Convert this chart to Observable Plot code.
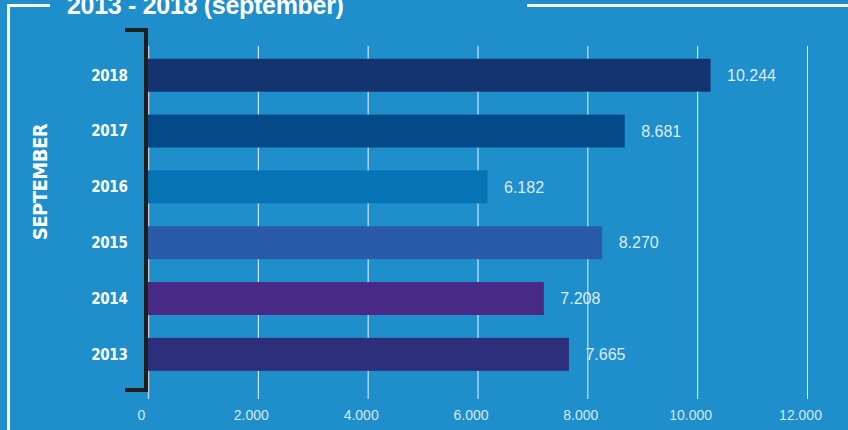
<!DOCTYPE html>
<html>
<head>
<meta charset="utf-8">
<script src="https://cdn.jsdelivr.net/npm/d3@7"></script>
<script src="https://cdn.jsdelivr.net/npm/@observablehq/plot@0.6"></script>
<style>
  html, body { margin: 0; padding: 0; background: #1f8fcc; }
  #wrap { position: relative; width: 848px; height: 430px; overflow: hidden; background: #1f8fcc; }
  #title { position: absolute; left: 67px; top: -9px; font: bold 25px "Liberation Sans", Arial, sans-serif; color: #fff; white-space: nowrap; letter-spacing: -0.3px; }
  .fl { position: absolute; background: #fff; }
  #bracket { position: absolute; left: 125px; top: 28px; width: 19px; height: 356px; border: 4px solid #1e1e1e; border-left: none; }
  #side { position: absolute; left: 40px; top: 182px; transform: translate(-50%, -50%) rotate(-90deg); font-family: "DejaVu Sans", sans-serif; font-weight: bold; font-stretch: condensed; font-size: 20px; color: #fff; white-space: nowrap; letter-spacing: -0.5px; }
  #chart { position: absolute; left: 0; top: 0; }
  g[aria-label="y-axis tick label"] text { font-family: "DejaVu Sans", sans-serif !important; font-stretch: condensed; font-weight: bold !important; font-size: 15px !important; letter-spacing: -0.3px; }
  g[aria-label="x-axis tick label"] text { font-family: "Liberation Sans", Arial, sans-serif !important; font-size: 14px !important; }
</style>
</head>
<body>
<div id="wrap">
  <div id="chart"></div>
  <div class="fl" style="left:7px; top:4px; width:2.5px; height:430px;"></div>
  <div class="fl" style="left:7px; top:4px; width:43px; height:2.5px;"></div>
  <div class="fl" style="left:527px; top:4px; width:321px; height:2.5px;"></div>
  <div id="title">2013 - 2018 (september)</div>
  <div id="bracket"></div>
  <div id="side">SEPTEMBER</div>
</div>
<script>
const years = ["2018", "2017", "2016", "2015", "2014", "2013"];
const values = [10244, 8681, 6182, 8270, 7208, 7665];
const colors = ["#14346f", "#054a88", "#0673b5", "#295ba8", "#482985", "#2e2f7c"];
const xTicks = [0, 2000, 4000, 6000, 8000, 10000, 12000];

const data = years.map((y, i) => ({year: y, value: values[i], color: colors[i]}));
const fmt = d3.formatLocale({decimal: ",", thousands: ".", grouping: [3], currency: ["", ""]}).format(",");

const chart = Plot.plot({
  width: 848,
  height: 430,
  marginLeft: 148,
  marginRight: 41,
  marginTop: 46,
  marginBottom: 31,
  style: {background: "transparent", fontFamily: "'Liberation Sans', Arial, sans-serif"},
  x: {domain: [0, 12000]},
  y: {domain: years, paddingInner: 0.41, paddingOuter: 0.2, insetTop: 1.6, insetBottom: 17, round: false},
  marks: [
    Plot.gridX(xTicks.filter(d => d > 0), {stroke: "#ffffff", strokeOpacity: 0.9, strokeWidth: 1}),
    Plot.ruleX([0], {stroke: "#c4ccd4", strokeWidth: 1.5}),
    Plot.barX(data, {x: "value", y: "year", fill: "color"}),
    Plot.text(data, {x: "value", y: "year", text: d => fmt(d.value), dx: 16, textAnchor: "start", fill: "#dcedf8", fontSize: 16}),
    Plot.axisX({ticks: xTicks, tickSize: 0, tickPadding: 11, dx: -7, tickFormat: d => fmt(d), fill: "#d4e8f5", label: null}),
    Plot.axisY({tickSize: 0, tickPadding: 21, fill: "#ffffff", label: null})
  ]
});
document.getElementById("chart").appendChild(chart);
</script>
</body>
</html>
